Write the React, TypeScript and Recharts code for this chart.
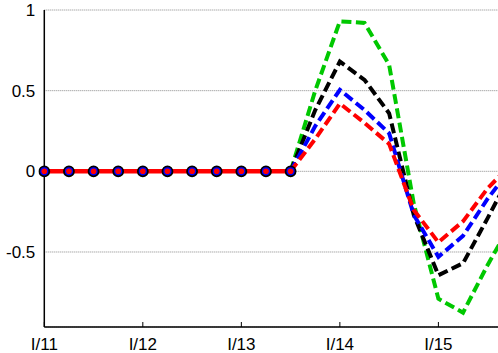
import React from 'react';
import { LineChart, Line, XAxis, YAxis, CartesianGrid } from 'recharts';

const xIndex = [0, 1, 2, 3, 4, 5, 6, 7, 8, 9, 10, 11, 12, 13, 14, 15, 16, 17, 18, 19];
const xTickPos = [0, 4, 8, 12, 16];
const xTickLabels = ['I/11', 'I/12', 'I/13', 'I/14', 'I/15'];
const yTicks = [-0.5, 0, 0.5, 1];

const history: (number | null)[] = [0, 0, 0, 0, 0, 0, 0, 0, 0, 0, 0, null, null, null, null, null, null, null, null, null];
const green: (number | null)[] = [null, null, null, null, null, null, null, null, null, null, 0, 0.5, 0.93, 0.92, 0.66, -0.2, -0.79, -0.876, -0.58, -0.31];
const black: (number | null)[] = [null, null, null, null, null, null, null, null, null, null, 0, 0.38, 0.68, 0.567, 0.36, -0.27, -0.644, -0.57, -0.29, 0.0];
const blue: (number | null)[] = [null, null, null, null, null, null, null, null, null, null, 0, 0.28, 0.505, 0.38, 0.236, -0.27, -0.53, -0.4, -0.17, 0.03];
const red: (number | null)[] = [null, null, null, null, null, null, null, null, null, null, 0, 0.2, 0.42, 0.3, 0.17, -0.24, -0.44, -0.31, -0.105, 0.05];

const data = xIndex.map((i, k) => ({
  i,
  hist: history[k],
  green: green[k],
  black: black[k],
  blue: blue[k],
  red: red[k],
}));

const FONT = '"Liberation Sans", Arial, sans-serif';

const BottomTick = (props: any) => {
  const { x, y, payload } = props;
  const idx = xTickPos.indexOf(payload.value);
  return (
    <g>
      <line x1={x} y1={y} x2={x} y2={y - 5} stroke="#000" strokeWidth={1} />
      <text x={x} y={y + 22.5} textAnchor="middle" fontFamily={FONT} fontSize={17} fill="#000">
        {idx >= 0 ? xTickLabels[idx] : ''}
      </text>
    </g>
  );
};

const TopTick = (props: any) => {
  const { x, y } = props;
  return <line x1={x} y1={y} x2={x} y2={y + 5} stroke="#000" strokeWidth={1} />;
};

const LeftTick = (props: any) => {
  const { x, y, payload } = props;
  return (
    <text x={x - 9} y={y} dy="0.36em" textAnchor="end" fontFamily={FONT} fontSize={17} fill="#000">
      {String(payload.value)}
    </text>
  );
};

const dash = '10 4.5';

export default function App() {
  return (
    <div style={{ position: 'fixed', left: 0, top: 0, width: 498, height: 353, background: '#fff' }}>
      <LineChart width={498} height={353} data={data} margin={{ top: 10, right: 0, left: 0, bottom: 0 }}>
        <CartesianGrid vertical={false} stroke="#888" strokeDasharray="1 1" />
        <XAxis
          xAxisId={0}
          dataKey="i"
          type="number"
          domain={[0, 18.42]}
          allowDataOverflow
          ticks={xTickPos}
          interval={0}
          height={26}
          tickSize={0}
          tickMargin={0}
          tickLine={false}
          axisLine={{ stroke: '#000', strokeWidth: 1.5 }}
          tick={<BottomTick />}
        />
        <XAxis
          xAxisId="top"
          orientation="top"
          dataKey="i"
          type="number"
          domain={[0, 18.42]}
          allowDataOverflow
          ticks={xTickPos}
          interval={0}
          height={0}
          tickSize={0}
          tickMargin={0}
          tickLine={false}
          axisLine={{ stroke: '#000', strokeWidth: 1.5 }}
          tick={<TopTick />}
        />
        <YAxis
          type="number"
          domain={[-0.965, 1]}
          allowDataOverflow
          ticks={yTicks}
          interval={0}
          width={44.3}
          tickSize={0}
          tickMargin={0}
          tickLine={false}
          axisLine={{ stroke: '#000', strokeWidth: 1.5 }}
          tick={<LeftTick />}
        />
        <Line dataKey="green" stroke="#00c800" strokeWidth={4} strokeDasharray={dash} dot={false} isAnimationActive={false} connectNulls={false} />
        <Line dataKey="black" stroke="#000000" strokeWidth={4} strokeDasharray={dash} dot={false} isAnimationActive={false} connectNulls={false} />
        <Line dataKey="blue" stroke="#0000ff" strokeWidth={4} strokeDasharray={dash} dot={false} isAnimationActive={false} connectNulls={false} />
        <Line dataKey="red" stroke="#ff0000" strokeWidth={4} strokeDasharray={dash} dot={false} isAnimationActive={false} connectNulls={false} />
        <Line
          dataKey="hist"
          stroke="none"
          strokeWidth={0}
          dot={{ r: 5, fill: '#0000ff', stroke: '#000', strokeWidth: 1.8, clipDot: false } as any}
          activeDot={false}
          isAnimationActive={false}
        />
        <Line
          dataKey="hist"
          stroke="#ff0000"
          strokeWidth={4.5}
          dot={{ r: 2.8, fill: '#ff0000', stroke: 'none', clipDot: false } as any}
          activeDot={false}
          isAnimationActive={false}
        />
      </LineChart>
    </div>
  );
}
